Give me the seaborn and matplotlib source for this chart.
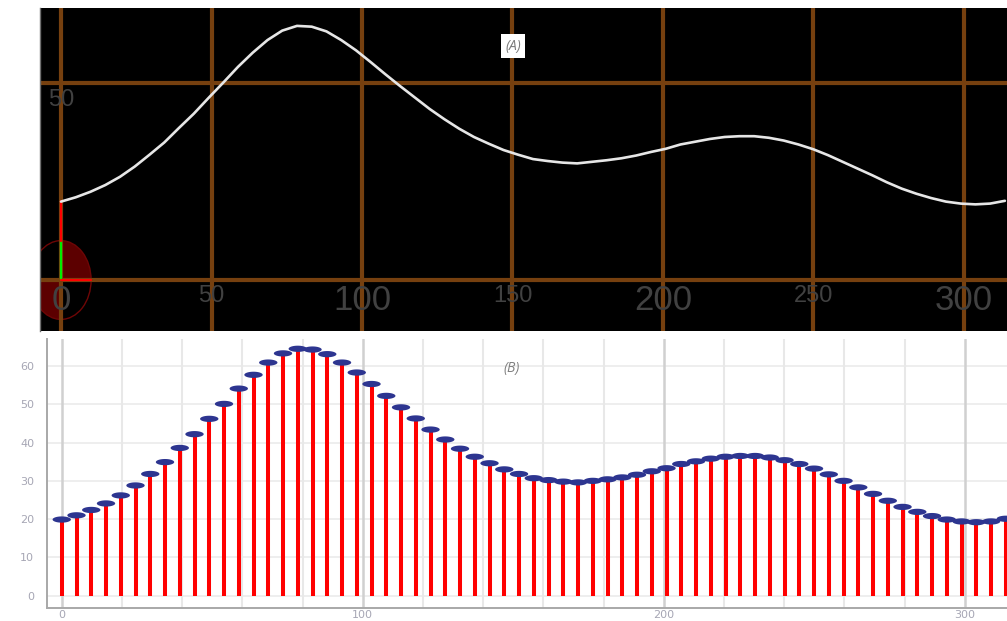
import numpy as np
import matplotlib
matplotlib.use('Agg')
import matplotlib.pyplot as plt
from matplotlib.patches import Wedge, Ellipse
import seaborn as sns

# sample positions and values
x_vals = [round(i * 4.9, 1) for i in range(65)]
y_vals = [19.9, 21.0, 22.4, 24.1, 26.2, 28.8, 31.8, 34.9, 38.6, 42.2,
          46.2, 50.1, 54.1, 57.7, 60.9, 63.3, 64.5, 64.3, 63.1, 60.9,
          58.3, 55.3, 52.2, 49.2, 46.3, 43.4, 40.8, 38.4, 36.3, 34.6,
          33.0, 31.8, 30.7, 30.2, 29.8, 29.6, 30.0, 30.4, 30.9, 31.6,
          32.5, 33.3, 34.4, 35.1, 35.8, 36.3, 36.5, 36.5, 36.1, 35.4,
          34.4, 33.2, 31.7, 30.0, 28.3, 26.6, 24.8, 23.2, 21.9, 20.8,
          19.9, 19.4, 19.2, 19.4, 20.1]

top_xgrid = [0, 50, 100, 150, 200, 250, 300]
top_xgrid_big = [0, 100, 200, 300]
top_ygrid = [0, 50]
bot_xticks = [0, 100, 200, 300]
bot_xminor = [20, 40, 60, 80, 120, 140, 160, 180, 220, 240, 260, 280]
bot_yticks = [0, 10, 20, 30, 40, 50, 60]

df = {'x': x_vals, 'y': y_vals}

sns.set_style('white')
plt.rcParams['font.family'] = ['DejaVu Sans']

fig = plt.figure(figsize=(10.07, 6.21), dpi=100)
fig.patch.set_facecolor('white')

# ---------- panel A ----------
ax1 = fig.add_axes([40 / 1007, (621 - 331) / 621, 967 / 1007, 323 / 621])
ax1.set_facecolor('black')
ax1.set_xlim(-6.98, 314.3)
ax1.set_ylim(-12.94, 69.04)
ax1.set_xticks([])
ax1.set_yticks([])
for side in ['top', 'right', 'bottom']:
    ax1.spines[side].set_visible(False)
ax1.spines['left'].set_color('#707070')
ax1.spines['left'].set_linewidth(1)

brown = '#76400f'
for gx in top_xgrid:
    ax1.axvline(gx, color=brown, lw=3, zorder=1)
for gy in top_ygrid:
    ax1.axhline(gy, color=brown, lw=3, zorder=1)

ax1.add_patch(Wedge((0, 0), 10, 0, 90, facecolor='#5c0000', edgecolor='none', zorder=0.5))
ax1.add_patch(Wedge((0, 0), 10, 180, 270, facecolor='#5c0000', edgecolor='none', zorder=0.5))
ax1.add_patch(Ellipse((0, 0), 20, 20, fill=False, edgecolor='#6e0606', lw=1, zorder=0.6))

lbl_font = ['Liberation Sans Narrow', 'Liberation Sans', 'DejaVu Sans']
for gx in top_xgrid:
    big = gx in top_xgrid_big
    ax1.text(gx, -5.1 if big else -4.1, str(gx), ha='center', va='center',
             fontsize=25 if big else 17, color='#414141', family=lbl_font, zorder=2)
ax1.text(0, 45.7, '50', ha='center', va='center', fontsize=17,
         color='#414141', family=lbl_font, zorder=2)

ax1.plot([0, 0], [0, 10], color='#00ee00', lw=1.6, zorder=3)
ax1.plot([0, 0], [10, 20], color='#ff0000', lw=1.6, zorder=3)
ax1.plot([0, 10], [0, 0], color='#ff0000', lw=1.6, zorder=3)

sns.lineplot(data=df, x='x', y='y', ax=ax1, color='#e6e6e6', lw=1.9, zorder=4)
ax1.lines[-1].set_solid_joinstyle('round')
ax1.set_xlabel('')
ax1.set_ylabel('')

ax1.text(0.489, 0.882, '(A)', transform=ax1.transAxes, ha='center', va='center',
         fontsize=10, style='italic', color='#7a7a7a', family=['Open Sans', 'DejaVu Sans'],
         bbox=dict(facecolor='white', edgecolor='none', pad=3), zorder=5)

# ---------- panel B ----------
ax2 = fig.add_axes([46.7 / 1007, (621 - 607.7) / 621, 960.3 / 1007, 268.4 / 621])
ax2.set_facecolor('white')
ax2.set_xlim(-5.0, 314.0)
ax2.set_ylim(-3.13, 66.98)

for gy in bot_yticks:
    ax2.axhline(gy, color='#ebebeb', lw=1.2, zorder=0)
for gx in bot_xminor:
    ax2.axvline(gx, color='#e8e8e8', lw=1.5, zorder=0)
for gx in bot_xticks:
    ax2.axvline(gx, color='#d0d0d0', lw=1.8, zorder=0)

ax2.vlines(x_vals, 0, y_vals, color='#ff0000', lw=2.9, zorder=2)

t = np.linspace(0, 2 * np.pi, 48)
ellipse_marker = np.column_stack([np.cos(t), 0.34 * np.sin(t)])
sns.scatterplot(data=df, x='x', y='y', ax=ax2, marker=ellipse_marker, s=175,
                color='#2d3590', edgecolor='none', linewidth=0, zorder=3)
ax2.set_xlabel('')
ax2.set_ylabel('')

ax2.set_xticks(bot_xticks)
ax2.set_yticks(bot_yticks)
ax2.tick_params(axis='both', length=0, labelsize=8, labelcolor='#a6a6b4')
ax2.tick_params(axis='y', pad=9)
ax2.tick_params(axis='x', pad=2)
for side in ['top', 'right']:
    ax2.spines[side].set_visible(False)
for side in ['left', 'bottom']:
    ax2.spines[side].set_color('#a8a8a8')
    ax2.spines[side].set_linewidth(1.4)

ax2.text(0.4845, 0.893, '(B)', transform=ax2.transAxes, ha='center', va='center',
         fontsize=10, style='italic', color='#808080', family=['Open Sans', 'DejaVu Sans'])

fig.savefig('out.png', dpi=100)
